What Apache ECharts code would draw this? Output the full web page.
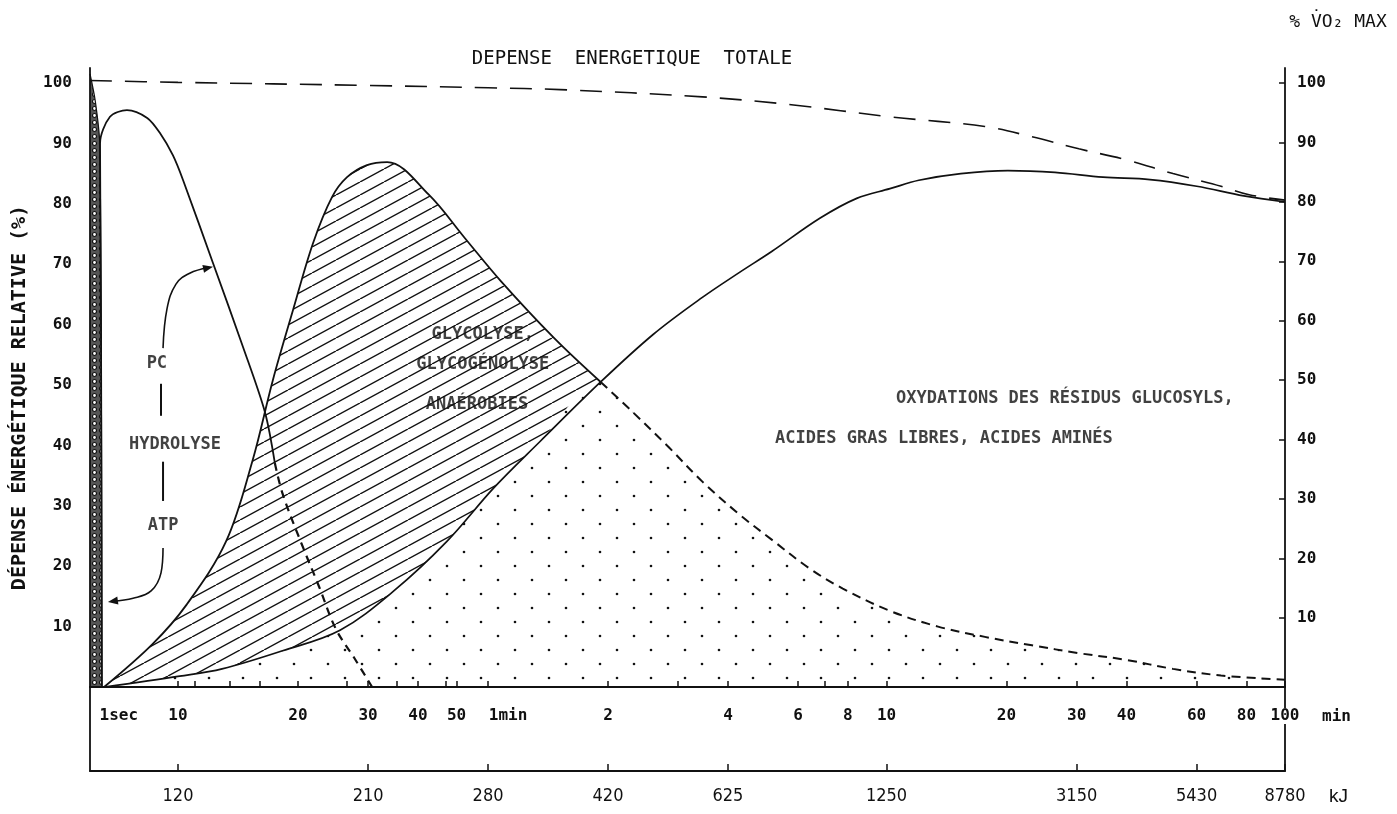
<!DOCTYPE html>
<html><head><meta charset="utf-8">
<script src="https://cdn.jsdelivr.net/npm/echarts@6/dist/echarts.min.js"></script>
<style>html,body{margin:0;padding:0;background:#fff}#c{width:1397px;height:814px}</style>
</head><body><div id="c"></div>
<script>
// ---------------- data (time in seconds, values in % of relative energy expenditure) ----------------
const xTickTimes = [10, 20, 30, 40, 50, 60, 120, 240, 360, 480, 600, 1200, 1800, 2400, 3600, 4800, 6000];
const xMinorTickTimes = [11, 13.5, 16, 26.5, 35.5, 47, 180, 420];
const xLabelTimes = [1, 10, 20, 30, 40, 50, 60, 120, 240, 360, 480, 600, 1200, 1800, 2400, 3600, 4800, 6000];
const xLabelTexts = ['1sec', '10', '20', '30', '40', '50', '1min', '2', '4', '6', '8', '10', '20', '30', '40', '60', '80', '100'];
const kjTimes = [10, 30, 60, 120, 240, 600, 1800, 3600, 6000];
const kjLabels = ['120', '210', '280', '420', '625', '1250', '3150', '5430', '8780'];
const yTickValues = [10, 20, 30, 40, 50, 60, 70, 80, 90, 100];

// ATP store (stippled band along the left axis)
const atpBandT = [0, 0.6, 1.1, 1.3, 1.35];
const atpBandV = [101.5, 97, 90, 45, 0];

// PC hydrolysis curve (solid part, then dashed part)
const pcT = [1.35, 1.25, 1.14, 2.27, 4.2, 6.5, 7.95, 9.43, 10.3, 12.24, 14.56, 16.53, 17.5];
const pcV = [0, 60, 90, 94.4, 95.5, 94.2, 91.7, 88.0, 83.9, 70.2, 56.3, 45.5, 37.1];
const pcDashT = [17.5, 18.3, 20.4, 22.6, 24.9, 27.7, 30.7];
const pcDashV = [37.1, 32.0, 23.8, 16.6, 9.6, 4.8, 0];

// anaerobic glycolysis (solid part, then dashed part)
const glyT = [1.6, 7.1, 10.5, 13.2, 15.4, 17.3, 19.44, 21.83, 24.35, 26.56, 29.8, 33.5, 42.6, 52.5, 64.6, 87.8, 115];
const glyV = [0, 7.1, 13.6, 24.1, 37.6, 50.8, 62.4, 73.5, 81.1, 84.4, 86.4, 86.9, 81.5, 74.3, 67.2, 57.8, 50.5];
const glyDashT = [115, 137, 171, 207, 256, 309, 385, 466, 612, 808, 1059, 1390, 1823, 2393, 3141, 4146, 6000];
const glyDashV = [50.5, 45.8, 39.6, 34.0, 28.6, 24.4, 19.6, 16.3, 12.6, 10.0, 8.3, 6.9, 5.6, 4.5, 3.0, 1.9, 1.2];

// aerobic oxidations
const aerT = [1.6, 10.1, 12.9, 18.3, 25.5, 34.8, 47.3, 62.1, 80.9, 115, 156, 207, 256, 309, 408, 505, 612, 723, 922, 1210, 1588, 2096, 2750, 3603, 4728, 6000];
const aerV = [0, 1.8, 3.0, 6.0, 9.4, 15.9, 24.1, 33.0, 40.6, 50.5, 58.4, 64.5, 68.6, 72.1, 77.6, 80.9, 82.5, 83.9, 85.0, 85.5, 85.2, 84.4, 84.0, 82.9, 81.3, 80.3];

// total energy expenditure (% VO2 max)
const totT = [0, 10, 30, 60, 91, 207, 346, 612, 1059, 1390, 1823, 2393, 3141, 4146, 4877, 6000];
const totV = [100.4, 100.1, 99.6, 99.2, 98.9, 97.7, 96.4, 94.4, 92.8, 91.1, 89.1, 87.3, 85.0, 82.9, 81.5, 80.6];

// annotation arrows
const pcArrowT = [8.3, 8.75, 9.77, 10.7, 11.9];
const pcArrowV = [56.1, 62.6, 66.7, 68.5, 69.4];
const atpArrowT = [8.3, 8.07, 6.94, 4.9, 2.6];
const atpArrowV = [23.0, 18.9, 15.9, 14.7, 14.2];
const dash1T = [8.07, 8.07], dash1V = [50.2, 44.9];
const dash2T = [8.3, 8.3], dash2V = [37.3, 30.8];

// annotation texts
const noteTexts = ['PC', 'HYDROLYSE', 'ATP', 'GLYCOLYSE,', 'GLYCOGÉNOLYSE', 'ANAÉROBIES',
  'OXYDATIONS DES RÉSIDUS GLUCOSYLS,', 'ACIDES GRAS LIBRES, ACIDES AMINÉS'];
const noteT = [7.6, 9.66, 8.3, 58.2, 58.2, 56.3, 1682, 836];
const noteV = [53.6, 40.2, 26.8, 58.4, 53.3, 46.7, 47.8, 41.1];

// ---------------- axis transform: linear below 10 s, logarithmic above ----------------
const L_MIN = 1 - 88 / 398.5;
function pos(t) { return t >= 10 ? Math.log10(t) : L_MIN + t * (1 - L_MIN) / 10; }
const pts = (T, V) => T.map((t, i) => [pos(t), V[i]]);
function lookup(times, texts, v) {
  for (let i = 0; i < times.length; i++) if (Math.abs(pos(times[i]) - v) < 1e-6) return texts[i];
  return '';
}

// ---------------- fill patterns ----------------
function hatchPattern() {
  const c = document.createElement('canvas'); c.width = 24; c.height = 13;
  const g = c.getContext('2d');
  g.fillStyle = '#fff'; g.fillRect(0, 0, 24, 13);
  g.strokeStyle = '#111'; g.lineWidth = 1.4; g.beginPath();
  for (const dx of [-24, 0, 24]) { g.moveTo(dx, 13); g.lineTo(dx + 24, 0); }
  g.stroke();
  return c;
}
function dotPattern() {
  const c = document.createElement('canvas'); c.width = 34; c.height = 28;
  const g = c.getContext('2d');
  g.fillStyle = '#fff'; g.fillRect(0, 0, 34, 28);
  g.fillStyle = '#111';
  for (const [x, y] of [[5, 6], [22, 20]]) { g.beginPath(); g.arc(x, y, 1.3, 0, Math.PI * 2); g.fill(); }
  return c;
}
function stipplePattern() {
  const c = document.createElement('canvas'); c.width = 7; c.height = 7;
  const g = c.getContext('2d');
  g.fillStyle = '#555'; g.fillRect(0, 0, 7, 7);
  g.fillStyle = '#fff';
  g.beginPath(); g.arc(3.5, 3.5, 2.0, 0, Math.PI * 2); g.fill();
  g.strokeStyle = '#111'; g.lineWidth = 1.2; g.stroke();
  return c;
}

const FONT = "'DejaVu Sans Mono', 'Liberation Mono', monospace";
const INK = '#111';

const dotData = pts(aerT, aerV).filter((p, i) => aerT[i] <= 115)
  .concat(pts(glyDashT, glyDashV).filter((p, i) => glyDashT[i] > 115));

const arrowData = (T, V, rot) => pts(T, V).map((p, i) => i === T.length - 1
  ? { value: p, symbol: 'triangle', symbolSize: [8, 10], symbolRotate: rot, itemStyle: { color: INK } }
  : { value: p, symbol: 'none' });

const SM = 0.35;
const lbl = { color: INK, fontFamily: FONT, fontSize: 16, fontWeight: 'bold' };
const xl = Object.assign({ lineHeight: 38 }, lbl);
const chart = echarts.init(document.getElementById('c'), null, { renderer: 'canvas' });
chart.setOption({
  animation: false,
  backgroundColor: '#fff',
  grid: [
    { left: 90, right: 112, top: 68, bottom: 127 },
    { left: 90, right: 112, top: 687, bottom: 43 }
  ],
  xAxis: [{
    gridIndex: 0, type: 'value', min: pos(0), max: pos(6000), position: 'bottom', z: 10,
    axisLine: { onZero: false, lineStyle: { color: INK, width: 1.8 } },
    axisTick: { inside: true, length: 6, customValues: xTickTimes.concat(xMinorTickTimes).map(pos), lineStyle: { color: INK, width: 1.5 } },
    axisLabel: Object.assign({
      customValues: xLabelTimes.map(pos), margin: 10,
      formatter: v => {
        const s = lookup(xLabelTimes, xLabelTexts, v);
        if (s === '1sec' || s === '1min') return '{r|' + s + '}';
        if (s === '100') return '{w|' + s + '}';
        return s;
      },
      rich: {
        r: Object.assign({ padding: [0, 0, 0, 40] }, xl),
        w: Object.assign({ backgroundColor: '#fff', padding: [0, 3, 0, 3] }, xl)
      }
    }, xl),
    splitLine: { show: false },
    name: 'min', nameLocation: 'end', nameGap: 37,
    nameTextStyle: Object.assign({ verticalAlign: 'top', padding: [22, 0, 0, 0] }, lbl)
  }, {
    gridIndex: 1, type: 'value', min: pos(0), max: pos(6000), position: 'bottom', z: 4,
    axisLine: { onZero: false, lineStyle: { color: INK, width: 1.8 } },
    axisTick: { inside: true, length: 7, customValues: kjTimes.map(pos), lineStyle: { color: INK, width: 1.5 } },
    axisLabel: {
      customValues: kjTimes.map(pos), margin: 16, color: INK,
      fontFamily: "'Liberation Sans Narrow', 'DejaVu Sans Condensed', 'Liberation Sans', sans-serif", fontSize: 18,
      formatter: v => lookup(kjTimes, kjLabels, v)
    },
    splitLine: { show: false },
    name: 'kJ', nameLocation: 'end', nameGap: 44,
    nameTextStyle: { color: INK, fontFamily: "'Liberation Sans', sans-serif", fontSize: 19, verticalAlign: 'top', padding: [16, 0, 0, 0] }
  }],
  yAxis: [{
    gridIndex: 0, type: 'value', position: 'left', min: 0, max: 102.48, z: 5,
    axisLine: { show: true, onZero: false, lineStyle: { color: INK, width: 1.8 } },
    axisTick: { show: false },
    axisLabel: Object.assign({ customValues: yTickValues, margin: 18 }, lbl),
    splitLine: { show: false },
    name: 'DÉPENSE ÉNERGÉTIQUE RELATIVE (%)', nameLocation: 'middle', nameGap: 60,
    nameTextStyle: { color: INK, fontFamily: FONT, fontSize: 20, fontWeight: 'bold', padding: [0, 40, 0, 0] }
  }, {
    gridIndex: 0, type: 'value', position: 'right', min: -1.62, max: 102.52, z: 5,
    axisLine: { show: true, onZero: false, lineStyle: { color: INK, width: 1.8 } },
    axisTick: { show: true, inside: true, length: 6, customValues: yTickValues, lineStyle: { color: INK, width: 1.5 } },
    axisLabel: Object.assign({ customValues: yTickValues, margin: 12 }, lbl),
    splitLine: { show: false }
  }, {
    gridIndex: 1, type: 'value', position: 'left', min: 0, max: 1, z: 4,
    axisLine: { show: true, onZero: false, lineStyle: { color: INK, width: 1.8 } },
    axisTick: { show: false }, axisLabel: { show: false }, splitLine: { show: false }
  }, {
    gridIndex: 1, type: 'value', position: 'right', min: 0, max: 1, z: 4,
    axisLine: { show: true, onZero: false, lineStyle: { color: INK, width: 1.8 } },
    axisTick: { show: false }, axisLabel: { show: false }, splitLine: { show: false }
  }],
  graphic: [
    { type: 'text', x: 632, y: 59, style: { text: 'DEPENSE  ENERGETIQUE  TOTALE', font: "19px 'DejaVu Sans Mono'", fill: INK, textAlign: 'center', textVerticalAlign: 'middle' } },
    { type: 'text', x: 1338, y: 22, style: { text: '% V̇O₂ MAX', font: "18px 'DejaVu Sans Mono'", fill: INK, textAlign: 'center', textVerticalAlign: 'middle' } }
  ],
  series: [
    { name: 'hatch', type: 'line', data: pts(glyT, glyV), smooth: SM, symbol: 'none', silent: true,
      lineStyle: { width: 0 }, areaStyle: { color: { image: hatchPattern(), repeat: 'repeat' }, opacity: 1 } },
    { name: 'dots', type: 'line', data: dotData, smooth: SM, symbol: 'none', silent: true,
      lineStyle: { width: 0 }, areaStyle: { color: { image: dotPattern(), repeat: 'repeat' }, opacity: 1 } },
    { name: 'ATP', type: 'line', data: pts(atpBandT, atpBandV), smooth: 0.3, symbol: 'none', silent: true,
      lineStyle: { width: 1.2, color: INK }, areaStyle: { color: { image: stipplePattern(), repeat: 'repeat' }, opacity: 1 } },
    { name: 'total', type: 'line', data: pts(totT, totV), smooth: SM, symbol: 'none',
      lineStyle: { color: INK, width: 1.6, type: [22, 13] } },
    { name: 'PC', type: 'line', data: pts(pcT, pcV), smooth: 0.3, symbol: 'none', lineStyle: { color: INK, width: 1.8 } },
    { name: 'PC dashed', type: 'line', data: pts(pcDashT, pcDashV), smooth: SM, symbol: 'none', lineStyle: { color: INK, width: 2.2, type: [8, 6] } },
    { name: 'glyco', type: 'line', data: pts(glyT, glyV), smooth: SM, symbol: 'none', lineStyle: { color: INK, width: 1.8 } },
    { name: 'glyco dashed', type: 'line', data: pts(glyDashT, glyDashV), smooth: SM, symbol: 'none', lineStyle: { color: INK, width: 2, type: [9, 6] } },
    { name: 'aerobic', type: 'line', data: pts(aerT, aerV), smooth: SM, symbol: 'none', lineStyle: { color: INK, width: 1.7 } },
    { name: 'arrowPC', type: 'line', data: arrowData(pcArrowT, pcArrowV, -78), smooth: 0.4, lineStyle: { color: INK, width: 1.6 } },
    { name: 'arrowATP', type: 'line', data: arrowData(atpArrowT, atpArrowV, 98), smooth: 0.4, lineStyle: { color: INK, width: 1.6 } },
    { name: 'dash1', type: 'line', data: pts(dash1T, dash1V), symbol: 'none', lineStyle: { color: INK, width: 2 } },
    { name: 'dash2', type: 'line', data: pts(dash2T, dash2V), symbol: 'none', lineStyle: { color: INK, width: 2 } },
    { name: 'notes', type: 'scatter', symbolSize: 0, silent: true, z: 6,
      data: noteTexts.map((s, i) => ({ name: s, value: [pos(noteT[i]), noteV[i]] })),
      label: { show: true, position: 'inside', formatter: '{b}', color: INK, fontFamily: FONT, fontSize: 17, fontWeight: 'bold' } }
  ]
});
</script></body></html>
